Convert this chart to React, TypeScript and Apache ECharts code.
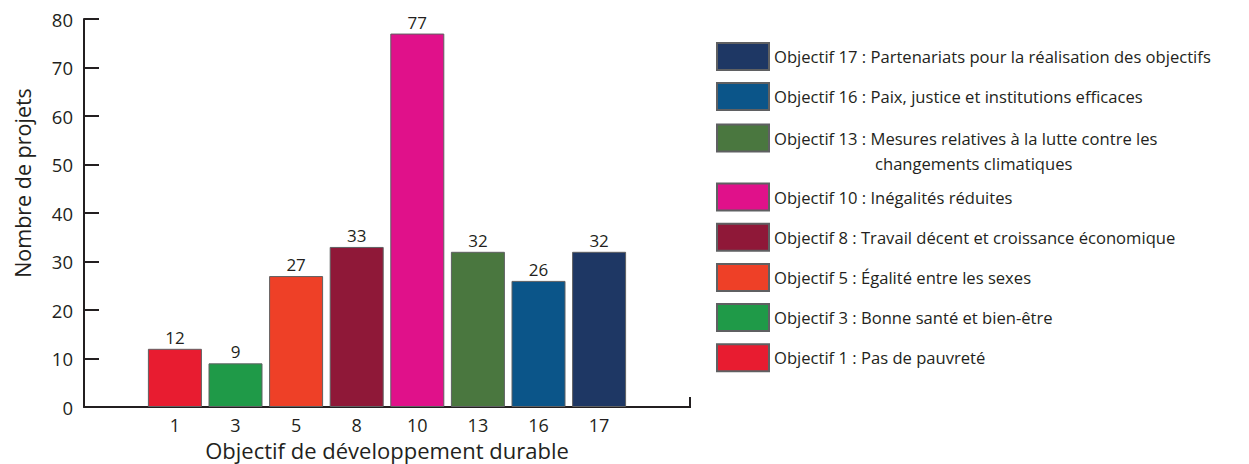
import React, { useEffect, useRef } from "react";
import * as echarts from "echarts";

// Sustainable Development Goals funded, and the number of projects per goal
const goals = ["1", "3", "5", "8", "10", "13", "16", "17"];
const projectCounts = [12, 9, 27, 33, 77, 32, 26, 32];
const goalNames = [
  "Objectif 1 : Pas de pauvreté",
  "Objectif 3 : Bonne santé et bien-être",
  "Objectif 5 : Égalité entre les sexes",
  "Objectif 8 : Travail décent et croissance économique",
  "Objectif 10 : Inégalités réduites",
  "Objectif 13 : Mesures relatives à la lutte contre les changements climatiques",
  "Objectif 16 : Paix, justice et institutions efficaces",
  "Objectif 17 : Partenariats pour la réalisation des objectifs",
];
const goalColors = [
  "#e81c30",
  "#1f9a48",
  "#ee4027",
  "#8f1838",
  "#e0118a",
  "#4a773f",
  "#0b5589",
  "#1e3764",
];
const yTicks = { min: 0, max: 80, interval: 10 };

// one empty slot on each side of the goals along the x axis
const xCategories = ["", ...goals, ""];

const FONT = "'Open Sans', 'Noto Sans', sans-serif";
const INK = "#231f20";
const W = 1249;
const H = 464;
const GRID = { left: 84, right: 559, top: 19, bottom: 57 };
const LEGEND_SIZE = 16.6;

export default function App() {
  const ref = useRef<HTMLDivElement>(null);

  useEffect(() => {
    document.body.style.margin = "0";
    if (!ref.current) return;
    const chart = echarts.init(ref.current, null, { renderer: "svg" });

    const series = goals.map((g, i) => ({
      type: "bar",
      name: goalNames[i],
      data: xCategories.map((c) => (c === g ? projectCounts[i] : "-")),
      barWidth: 54,
      barGap: "-100%",
      itemStyle: { color: goalColors[i], borderColor: "#5f6062", borderWidth: 1 },
      label: {
        show: true,
        position: "top",
        distance: 3,
        color: INK,
        fontSize: 17,
        fontFamily: FONT,
      },
    }));

    const legendText = { color: INK, fontSize: LEGEND_SIZE, fontFamily: FONT };
    const legendBase = {
      orient: "vertical",
      left: 716,
      padding: 0,
      itemWidth: 52,
      itemHeight: 27,
      icon: "rect",
      selectedMode: false,
      textStyle: legendText,
    };
    const reversed = [...goalNames].reverse();

    chart.setOption({
      animation: false,
      grid: { ...GRID, containLabel: false, outerBoundsMode: "none" },
      xAxis: {
        type: "category",
        data: xCategories,
        axisLine: { lineStyle: { color: INK, width: 2 } },
        axisTick: { show: false },
        axisLabel: { color: INK, fontSize: 18, fontFamily: FONT, margin: 9, interval: 0 },
        name: "Objectif de développement durable",
        nameLocation: "middle",
        nameGap: 32,
        nameTextStyle: { color: INK, fontSize: 22, fontFamily: FONT },
      },
      yAxis: {
        type: "value",
        ...yTicks,
        axisLine: { show: true, lineStyle: { color: INK, width: 2 } },
        axisTick: { show: true, inside: true, length: 15, lineStyle: { color: INK, width: 2 } },
        splitLine: { show: false },
        axisLabel: { color: INK, fontSize: 18.5, fontFamily: FONT, margin: 11 },
        name: "Nombre de projets",
        nameLocation: "middle",
        nameRotate: 90,
        nameGap: 51,
        nameTextStyle: { color: INK, fontSize: 21.5, fontFamily: FONT, padding: [0, 0, 0, 60] },
      },
      legend: [
        { ...legendBase, top: 42, itemGap: 11, data: reversed.slice(0, 2) },
        {
          ...legendBase,
          top: 123.5,
          data: [reversed[2]],
          formatter: () =>
            "{a|Objectif 13 : Mesures relatives à la lutte contre les}\n{i| }{a|changements climatiques}",
          textStyle: {
            ...legendText,
            padding: [25, 0, 0, 0],
            rich: {
              a: { color: INK, fontSize: LEGEND_SIZE, fontFamily: FONT, lineHeight: 25 },
              i: { width: 101, lineHeight: 25 },
            },
          },
        },
        { ...legendBase, top: 182.5, itemGap: 11.2, data: reversed.slice(3) },
      ],
      // closing tick at the right end of the x axis
      graphic: [
        {
          type: "line",
          shape: { x1: W - GRID.right, y1: H - GRID.bottom - 10, x2: W - GRID.right, y2: H - GRID.bottom + 1 },
          style: { stroke: INK, lineWidth: 2 },
        },
      ],
      series,
    });

    return () => chart.dispose();
  }, []);

  return <div ref={ref} style={{ width: W, height: H, background: "#fff" }} />;
}
